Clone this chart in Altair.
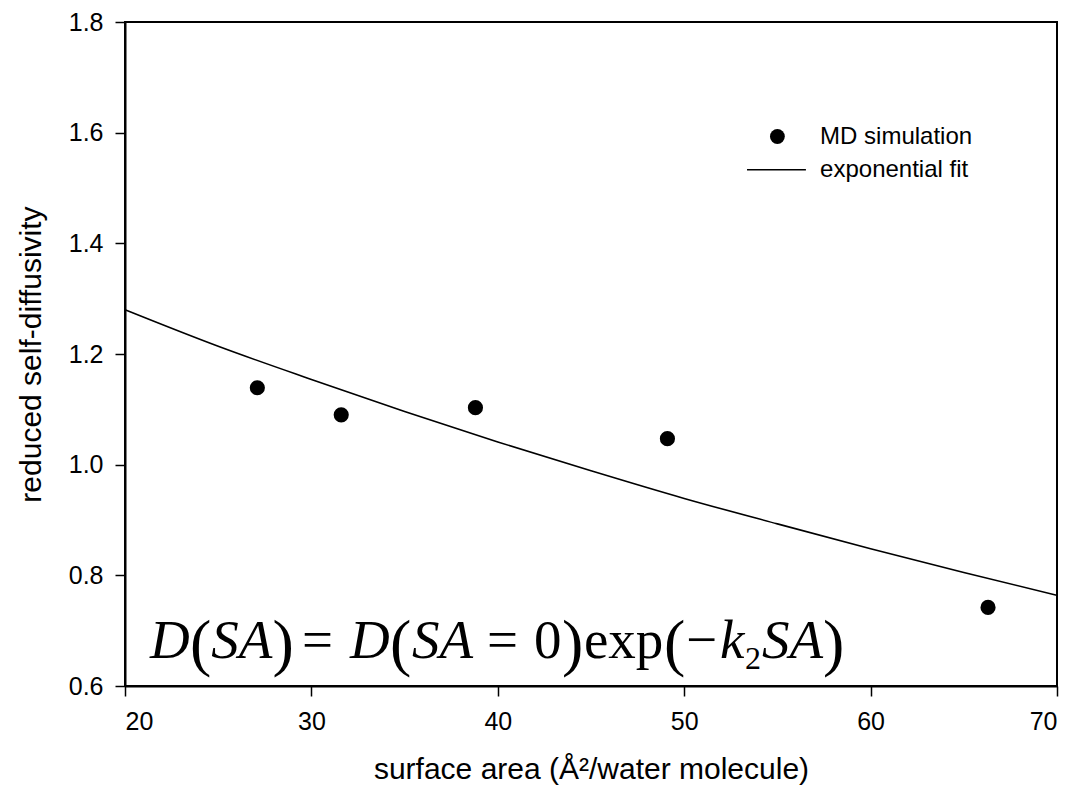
import altair as alt
import pandas as pd

# MD simulation points
sim_x = [27.1, 31.6, 38.8, 49.1, 66.3]
sim_y = [1.139, 1.090, 1.103, 1.047, 0.742]

# exponential fit curve
fit_x = [20, 25, 30, 35, 40, 45, 50, 55, 60, 65, 70]
fit_y = [1.280, 1.214, 1.154, 1.096, 1.041, 0.989, 0.939, 0.893, 0.848, 0.805, 0.764]

x_ticks = [20, 30, 40, 50, 60, 70]
y_ticks = [0.6, 0.8, 1.0, 1.2, 1.4, 1.6, 1.8]

# equation pieces (x position in data units, text)
eq_italic_x = [21.34, 24.63, 32.07, 35.40, 51.92, 54.17]
eq_italic_t = ["D", "SA", "D", "SA", "k", "SA"]
eq_upright_x = [29.50, 39.42, 41.94, 44.62, 50.10]
eq_upright_t = ["=", "=", "0", "exp", "\u2212"]
eq_paren_x = [23.49, 27.91, 34.22, 43.44, 48.92, 57.45]
eq_paren_t = ["(", ")", "(", ")", "(", ")"]
eq_sub_x = [53.26]
eq_sub_t = ["2"]
eq_y = 0.650
eq_paren_y = 0.640
eq_sub_y = 0.630

FONT = "Liberation Sans"
SERIF = "Liberation Serif"

xs = alt.Scale(domain=[20, 70], nice=False, zero=False)
ys = alt.Scale(domain=[0.6, 1.8], nice=False, zero=False)

sim_df = pd.DataFrame({"x": sim_x, "y": sim_y})
fit_df = pd.DataFrame({"x": fit_x, "y": fit_y})

base_x = alt.X("x:Q", scale=xs,
               axis=alt.Axis(values=x_ticks, title="surface area (Å²/water molecule)",
                             grid=False, format="d"))
base_y = alt.Y("y:Q", scale=ys,
               axis=alt.Axis(values=y_ticks, title="reduced self-diffusivity",
                             grid=False, format=".1f"))

fit = alt.Chart(fit_df).mark_line(color="black", strokeWidth=1.6, interpolate="monotone").encode(
    x=base_x, y=base_y)
pts = alt.Chart(sim_df).mark_circle(color="black", size=230, opacity=1).encode(
    x="x:Q", y="y:Q")

# legend
leg_pt = alt.Chart(pd.DataFrame({"x": [55.0], "y": [1.593]})).mark_circle(
    color="black", size=220, opacity=1).encode(x="x:Q", y="y:Q")
leg_line = alt.Chart(pd.DataFrame({"x": [53.37], "x2": [56.53], "y": [1.533]})).mark_rule(
    color="black", strokeWidth=1.6).encode(x="x:Q", x2="x2:Q", y="y:Q")
leg_txt = alt.Chart(pd.DataFrame({"x": [57.29, 57.29], "y": [1.593, 1.533],
                                  "t": ["MD simulation", "exponential fit"]})).mark_text(
    align="left", baseline="middle", font=FONT, fontSize=24, color="black").encode(
    x="x:Q", y="y:Q", text="t:N")

eq_it = alt.Chart(pd.DataFrame({"x": eq_italic_x, "y": [eq_y] * len(eq_italic_x), "t": eq_italic_t})).mark_text(
    align="left", baseline="alphabetic", font=SERIF, fontSize=55, fontStyle="italic", color="black").encode(
    x="x:Q", y="y:Q", text="t:N")
eq_up = alt.Chart(pd.DataFrame({"x": eq_upright_x, "y": [eq_y] * len(eq_upright_x), "t": eq_upright_t})).mark_text(
    align="left", baseline="alphabetic", font=SERIF, fontSize=55, color="black").encode(
    x="x:Q", y="y:Q", text="t:N")
eq_par = alt.Chart(pd.DataFrame({"x": eq_paren_x, "y": [eq_paren_y] * len(eq_paren_x), "t": eq_paren_t})).mark_text(
    align="left", baseline="alphabetic", font=SERIF, fontSize=64, color="black").encode(
    x="x:Q", y="y:Q", text="t:N")
eq_sub = alt.Chart(pd.DataFrame({"x": eq_sub_x, "y": [eq_sub_y], "t": eq_sub_t})).mark_text(
    align="left", baseline="alphabetic", font=SERIF, fontSize=32, color="black").encode(
    x="x:Q", y="y:Q", text="t:N")

chart = alt.layer(fit, pts, leg_pt, leg_line, leg_txt, eq_it, eq_up, eq_par, eq_sub).properties(
    width=932, height=664,
    autosize=alt.AutoSizeParams(type="none"),
    padding={"left": 117, "top": 14, "right": 5, "bottom": 100},
    background="white",
).configure_view(stroke="black", strokeWidth=2).configure_axis(
    domainColor="black", domainWidth=2, tickColor="black", tickWidth=1.5, tickSize=10,
    labelFont=FONT, labelFontSize=25, labelColor="black",
    titleFont=FONT, titleFontSize=30, titleFontWeight="normal", titleColor="black",
).configure_axisX(labelPadding=13, titlePadding=20).configure_axisY(labelPadding=12, titlePadding=22)

chart.save("out.html", embed_options={"renderer": "svg", "actions": False})
